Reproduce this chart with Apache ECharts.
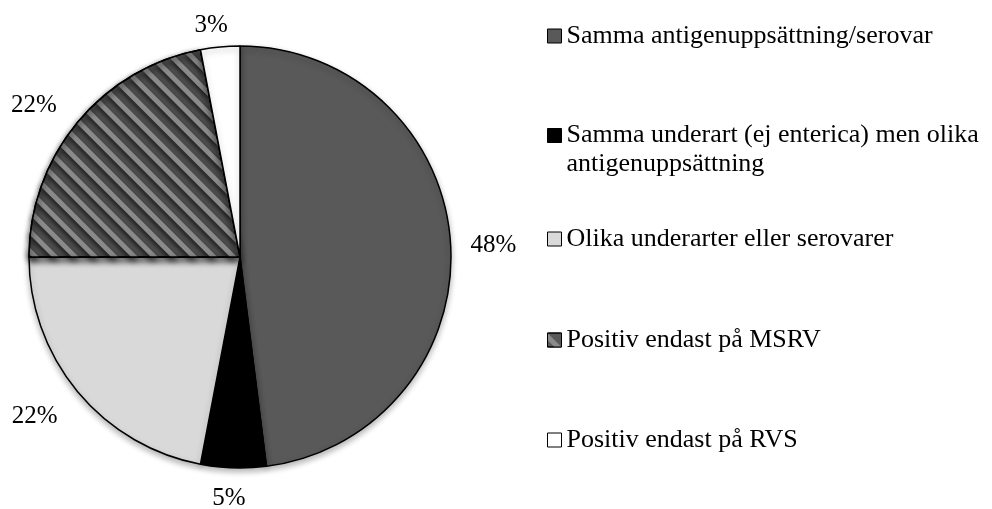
<!DOCTYPE html>
<html><head><meta charset="utf-8">
<script src="https://cdn.jsdelivr.net/npm/echarts@6/dist/echarts.min.js"></script>
<style>html,body{margin:0;padding:0;background:#fff}#c{width:992px;height:509px}</style>
</head><body><div id="c"></div>
<script>
const categories = [
  'Samma antigenuppsättning/serovar',
  'Samma underart (ej enterica) men olika antigenuppsättning',
  'Olika underarter eller serovarer',
  'Positiv endast på MSRV',
  'Positiv endast på RVS'
];
const values = [48, 5, 22, 22, 3];
const colors = ['#595959', '#000000', '#d9d9d9', '#595959', '#ffffff'];

const FONT = 'Liberation Serif';
const labelLen = [15, 28, 35, 32, 25];
const labelDx = [0, 18, 12, 9, 15];
const legendTops = [22.5, 92, 225.5, 326.5, 426.5];

const stripeDecal = {
  symbol: 'rect',
  symbolSize: 1,
  dashArrayX: [1, 0],
  dashArrayY: [5, 9],
  rotation: Math.PI / 4,
  color: '#8a8a8a'
};

const data = categories.map((n, i) => ({
  name: n,
  value: values[i],
  itemStyle: Object.assign({ color: colors[i] }, i === 3 ? { decal: stripeDecal } : {}),
  labelLine: { show: false, length: labelLen[i], length2: 0 }
}));

const legends = categories.map((n, i) => ({
  data: [n],
  orient: 'vertical',
  left: 547,
  top: legendTops[i],
  padding: 0,
  itemWidth: 14,
  itemHeight: 14,
  itemGap: 0,
  selectedMode: false,
  icon: 'rect',
  itemStyle: { borderColor: '#000', borderWidth: 1, shadowBlur: 0, shadowOffsetY: 0, shadowColor: 'transparent' },
  formatter: function (name) {
    return name === categories[1] ? '\nSamma underart (ej enterica) men olika\nantigenuppsättning' : name;
  },
  textStyle: { fontFamily: FONT, fontSize: 26, lineHeight: i === 1 ? 29 : 27, color: '#000' }
}));

const chart = echarts.init(document.getElementById('c'));
chart.setOption({
  animation: false,
  legend: legends,
  series: [{
    type: 'pie',
    center: [240, 257],
    radius: 211,
    startAngle: 90,
    clockwise: true,
    avoidLabelOverlap: false,
    emphasis: { disabled: true },
    itemStyle: { borderColor: '#000', borderWidth: 1.5, shadowBlur: 6, shadowOffsetY: 3, shadowColor: 'rgba(0,0,0,0.3)' },
    label: { show: true, position: 'outside', formatter: '{c}%', fontFamily: FONT, fontSize: 25, color: '#000' },
    labelLine: { show: false },
    labelLayout: function (p) { return { dx: labelDx[p.dataIndex], dy: 3 }; },
    data: data
  }]
});
</script></body></html>
